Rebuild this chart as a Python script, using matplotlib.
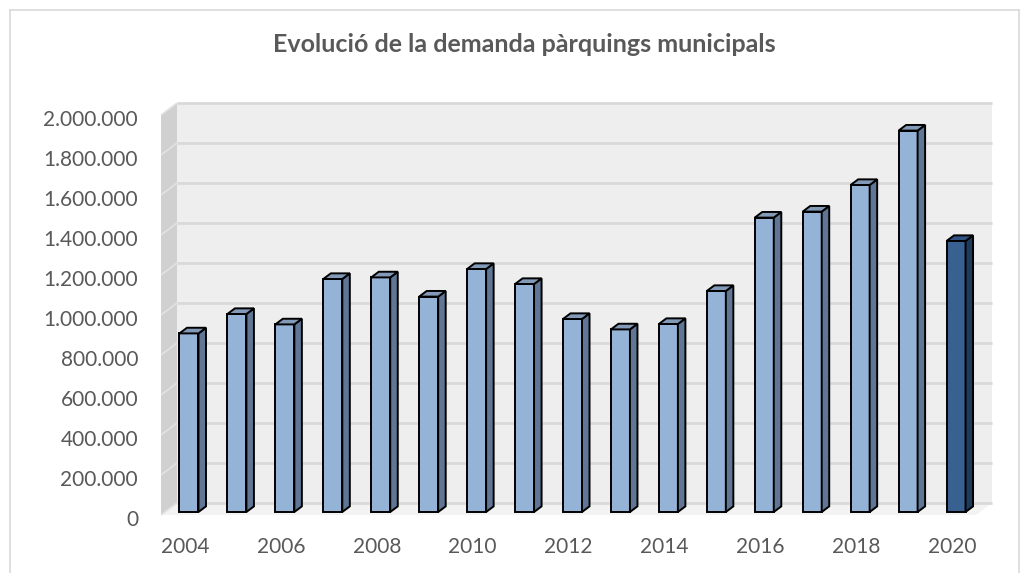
import matplotlib
matplotlib.use("Agg")
import matplotlib.pyplot as plt
from matplotlib.patches import Polygon, Rectangle
from matplotlib.lines import Line2D
from matplotlib.ticker import FuncFormatter
from matplotlib.transforms import ScaledTranslation

# ---- data ----
years = list(range(2004, 2021))
demand = [893000, 990000, 938000, 1165000, 1173000, 1077000, 1215000, 1140000,
          965000, 913000, 940000, 1105000, 1472000, 1502000, 1635000, 1907000, 1355000]
yticks = list(range(0, 2000001, 200000))
xtick_years = years[::2]
title = "Evolució de la demanda pàrquings municipals"

# ---- style ----
FONT = "Lato"
TXT = "#595959"
front_light, side_light, top_light = "#95b3d7", "#5f7694", "#8299b8"
front_dark, side_dark, top_dark = "#386192", "#203a5c", "#2f5283"

W, H = 1025, 573
fig = plt.figure(figsize=(W / 100, H / 100), dpi=100)
fig.patch.set_facecolor("white")

# front plane of the 3D box in pixels
L, R, T, B = 161, 976, 115, 515
ax = fig.add_axes([L / W, 1 - B / H, (R - L) / W, (B - T) / H])
n = len(years)
ax.set_xlim(-0.5, n - 0.5)
ax.set_ylim(0, 2000000)
ax.set_facecolor("none")
for s in ax.spines.values():
    s.set_visible(False)

# depth offset in data units (16 px right, 12 px up)
DX = 16 * n / (R - L)
DY = 12 * 2000000 / (B - T)
x0, x1 = -0.5, n - 0.5
ymax = 2000000

# back wall
ax.add_patch(Rectangle((x0 + DX, DY), x1 - x0, ymax, facecolor="#eeeeee",
                       edgecolor="none", zorder=0, clip_on=False))
# side wall
ax.add_patch(Polygon([(x0, 0), (x0 + DX, DY), (x0 + DX, ymax + DY), (x0, ymax)],
                     closed=True, facecolor="#d0d0d0", edgecolor="none", zorder=0.5, clip_on=False))
# floor
ax.add_patch(Polygon([(x0, 0), (x1, 0), (x1 + DX, DY), (x0 + DX, DY)],
                     closed=True, facecolor="#f3f3f3", edgecolor="none", zorder=0.5, clip_on=False))
# gridlines
for v in yticks:
    ax.plot([x0 + DX, x1 + DX], [v + DY, v + DY], color="#d9d9d9", lw=2,
            zorder=1, clip_on=False, solid_capstyle="butt")
    ax.plot([x0, x0 + DX], [v, v + DY], color="#e2e2e2", lw=1.2,
            zorder=1, clip_on=False, solid_capstyle="butt")

# bars
a, b = 0.25, 0.72
w = 19 * n / (R - L)
xs = list(range(n))
fronts = [front_dark if y == 2020 else front_light for y in years]
sides = [side_dark if y == 2020 else side_light for y in years]
tops = [top_dark if y == 2020 else top_light for y in years]
ax.bar([x + a * DX for x in xs], demand, width=w, bottom=a * DY, color=fronts,
       edgecolor="black", linewidth=1.4, zorder=3, clip_on=False)
for x, v, sc, tc in zip(xs, demand, sides, tops):
    xr = x + w / 2
    xl = x - w / 2
    ax.add_patch(Polygon([(xr + a * DX, a * DY), (xr + b * DX, b * DY),
                          (xr + b * DX, v + b * DY), (xr + a * DX, v + a * DY)],
                         closed=True, facecolor=sc, edgecolor="black", lw=1.4,
                         joinstyle="miter", zorder=3, clip_on=False))
    ax.add_patch(Polygon([(xl + a * DX, v + a * DY), (xr + a * DX, v + a * DY),
                          (xr + b * DX, v + b * DY), (xl + b * DX, v + b * DY)],
                         closed=True, facecolor=tc, edgecolor="black", lw=1.4,
                         joinstyle="miter", zorder=3, clip_on=False))

# ticks
ax.set_yticks(yticks)
ax.yaxis.set_major_formatter(FuncFormatter(lambda v, p: f"{int(v):,}".replace(",", ".")))
ax.set_xticks([years.index(y) for y in xtick_years])
ax.set_xticklabels([str(y) for y in xtick_years])
ax.tick_params(axis="both", length=0, labelsize=15, labelcolor=TXT)
ax.tick_params(axis="y", pad=16.5)
ax.tick_params(axis="x", pad=16)
shift = ScaledTranslation(0, -2.5 / 72, fig.dpi_scale_trans)
for lab in ax.get_xticklabels() + ax.get_yticklabels():
    lab.set_fontfamily(FONT)
for lab in ax.get_yticklabels():
    lab.set_transform(lab.get_transform() + shift)

# title
fig.text(524 / W, 1 - 45 / H, title, ha="center", va="center", fontsize=18,
         fontweight="bold", color=TXT, fontfamily=FONT)

# chart border
bc = "#d9d9d9"
fig.add_artist(Line2D([10 / W, 1019 / W], [1 - 10 / H, 1 - 10 / H], color=bc, lw=1.2))
fig.add_artist(Line2D([10 / W, 10 / W], [0, 1 - 10 / H], color=bc, lw=1.2))
fig.add_artist(Line2D([1019 / W, 1019 / W], [0, 1 - 10 / H], color=bc, lw=1.2))

fig.savefig("out.png", dpi=100)
